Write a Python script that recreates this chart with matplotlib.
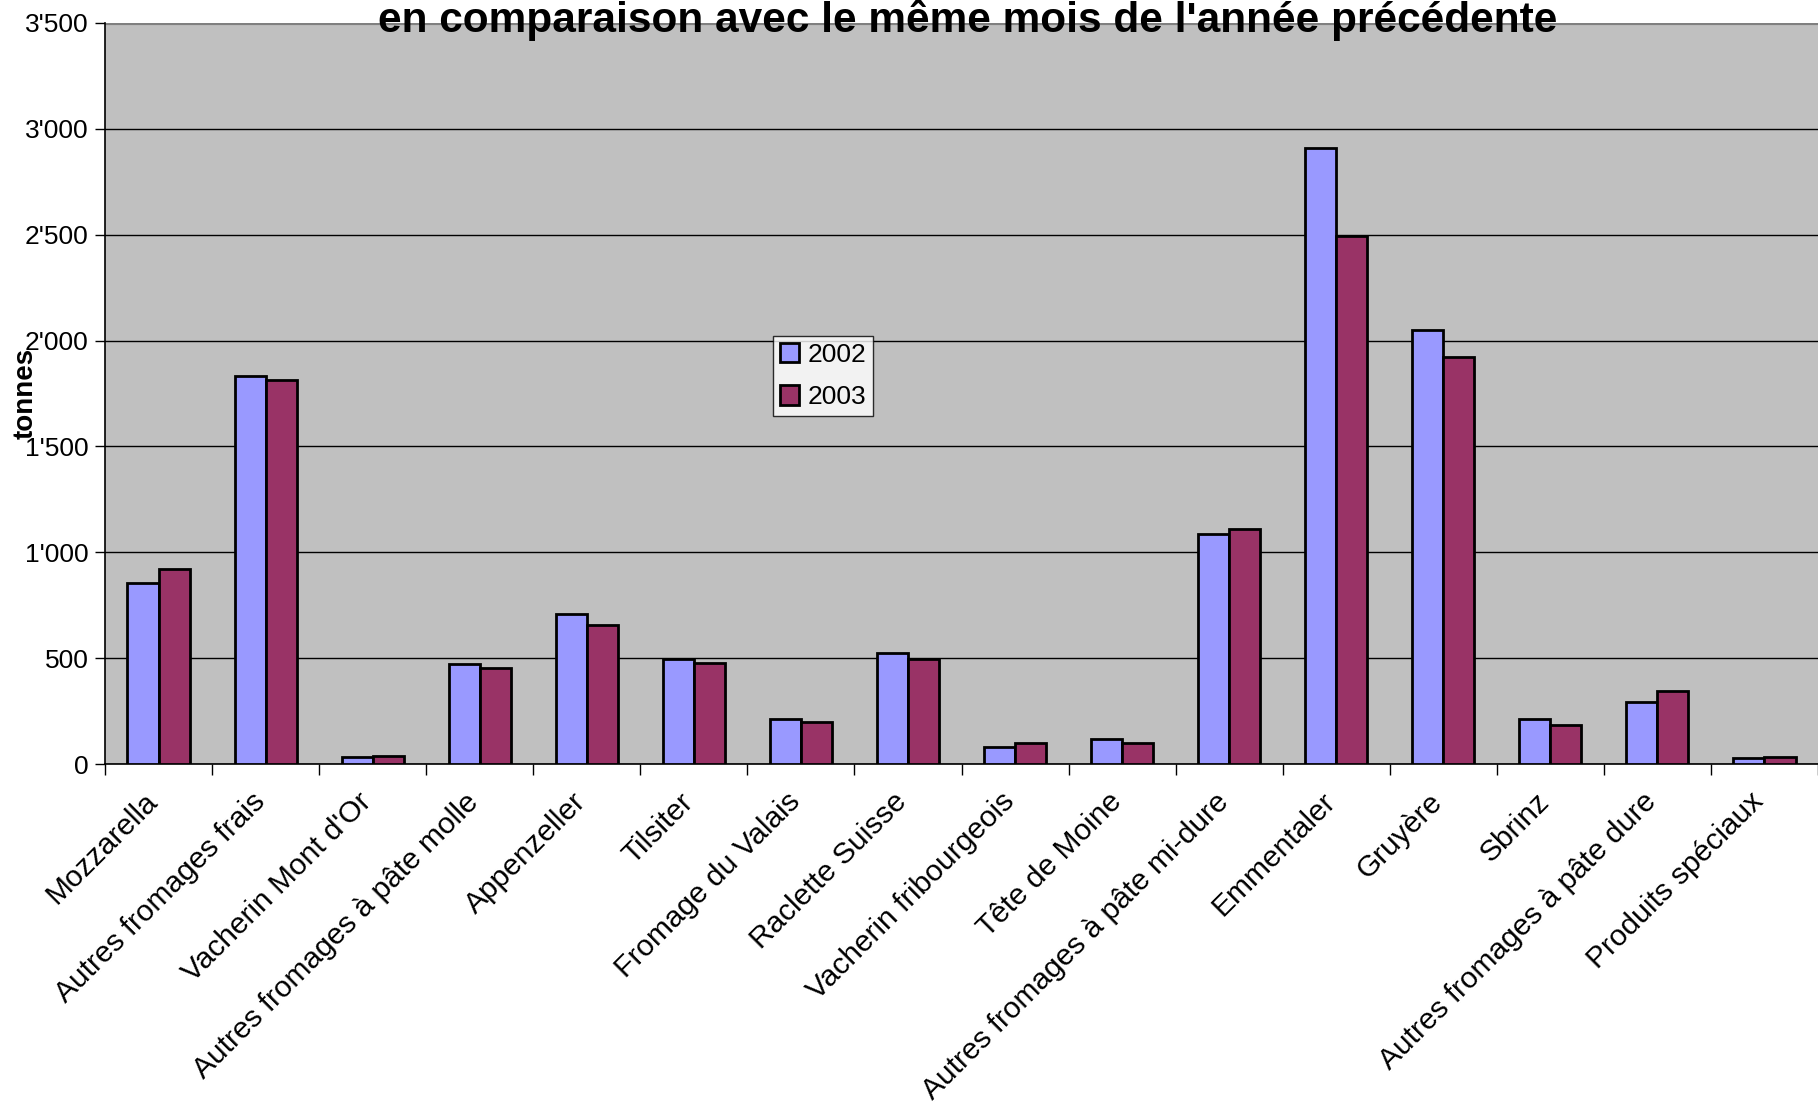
import matplotlib
matplotlib.use("Agg")
from matplotlib import pyplot as plt
from matplotlib.ticker import FuncFormatter
from matplotlib.transforms import ScaledTranslation
import numpy as np

categories = ["Mozzarella", "Autres fromages frais", "Vacherin Mont d'Or",
              "Autres fromages à pâte molle", "Appenzeller", "Tilsiter",
              "Fromage du Valais", "Raclette Suisse", "Vacherin fribourgeois",
              "Tête de Moine", "Autres fromages à pâte mi-dure", "Emmentaler",
              "Gruyère", "Sbrinz", "Autres fromages à pâte dure", "Produits spéciaux"]
v2002 = [854, 1835, 33, 471, 707, 498, 213, 526, 82, 118, 1085, 2908, 2049, 213, 294, 30]
v2003 = [920, 1813, 38, 455, 657, 477, 197, 498, 101, 101, 1112, 2492, 1923, 184, 345, 33]
series_names = ["2002", "2003"]
title = "en comparaison avec le même mois de l'année précédente"

plt.rcParams['font.family'] = ['Liberation Sans', 'DejaVu Sans']

fig = plt.figure(figsize=[18.18, 11.06], dpi=100)
ax = fig.add_axes([105 / 1818, 1 - 764 / 1106, 1 - 105 / 1818, (764 - 23) / 1106])
ax.set_facecolor('#C0C0C0')

x = np.arange(len(categories))
wd = 0.29
ax.bar(x - wd / 2, v2002, width=wd, color='#9999FF', edgecolor='black', linewidth=2, label=series_names[0], zorder=3)
ax.bar(x + wd / 2, v2003, width=wd, color='#993366', edgecolor='black', linewidth=2, label=series_names[1], zorder=3)

ax.set_xlim(-0.5, len(categories) - 0.5)
ax.set_ylim(0, 3500)
ax.set_yticks(np.arange(0, 3501, 500))
ax.yaxis.set_major_formatter(FuncFormatter(lambda v, p: "{:,}".format(int(v)).replace(",", "'")))
ax.grid(axis='y', color='black', linewidth=1, zorder=1)
ax.tick_params(axis='y', length=7, width=1, labelsize=19, pad=5)

ax.set_xticks(x)
ax.set_xticklabels(categories, rotation=45, ha='right', va='top', rotation_mode='anchor', fontsize=21.5)
ax.tick_params(axis='x', which='major', length=0, pad=17)
shift = ScaledTranslation(-15 / 100, 0, fig.dpi_scale_trans)
for lbl in ax.get_xticklabels():
    lbl.set_transform(lbl.get_transform() + shift)
ax.set_xticks(np.arange(-0.5, len(categories), 1), minor=True)
ax.tick_params(axis='x', which='minor', length=8, width=1)

for s in ['top', 'right']:
    ax.spines[s].set_visible(False)
ax.spines['left'].set_linewidth(1.2)
ax.spines['bottom'].set_linewidth(1.2)
ax.axhline(3500, color='#808080', linewidth=3, zorder=2)

leg = ax.legend(loc='upper left', fontsize=19, frameon=True, fancybox=False,
                handlelength=0.75, handleheight=0.75, handletextpad=0.3, borderpad=0.25,
                labelspacing=0.7, borderaxespad=0)
leg.get_frame().set_edgecolor('black')
leg.get_frame().set_linewidth(1)
leg.set_bbox_to_anchor((773 / 1818, 1 - 336 / 1106), transform=fig.transFigure)

fig.text(968 / 1818, 1 - 32 / 1106, title, ha='center', va='baseline', fontsize=30.5, fontweight='bold')
fig.text(26 / 1818, 1 - 393 / 1106, "tonnes", rotation=90, ha='center', va='center', fontsize=20, fontweight='bold')

plt.savefig('out.png', dpi=100)
